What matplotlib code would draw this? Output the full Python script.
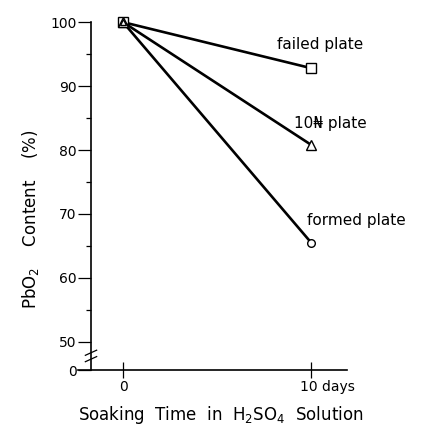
import matplotlib.pyplot as plt
import matplotlib.transforms as mtransforms

# soaking time (days) and PbO2 content (%)
days = [0, 10]
failed = [100, 92.8]
ten_n = [100, 80.8]
formed = [100, 65.5]

y_ticks = [50, 60, 70, 80, 90, 100]
y_minor = [55, 65, 75, 85, 95]
y_zero = 45.6          # broken axis: this position is labelled "0"

fig = plt.figure(figsize=(4.21, 4.30), dpi=100)
ax = fig.add_axes([0.1853, 0.1395, 0.639, 0.809])

lw = 1.9
ax.plot(days, formed, color='black', lw=lw, marker='o', ms=5.5,
        mfc='white', mec='black', mew=1.0, clip_on=False, zorder=3)
ax.plot(days, ten_n, color='black', lw=lw, marker='^', ms=7,
        mfc='white', mec='black', mew=1.0, clip_on=False, zorder=4)
ax.plot(days, failed, color='black', lw=lw, marker='s', ms=6.5,
        mfc='white', mec='black', mew=1.0, clip_on=False, zorder=3)
# the triangle sits inside the square at day 0
ax.plot(days[:1], ten_n[:1], ls='none', marker='^', ms=5, mfc='white',
        mec='black', mew=1.0, clip_on=False, zorder=5)

ax.set_xlim(-2.39, 11.9)
ax.set_ylim(y_zero, 100)

for s in ['top', 'right']:
    ax.spines[s].set_visible(False)
ax.spines['left'].set_position(('data', -1.7))
ax.spines['left'].set_linewidth(1.2)
ax.spines['bottom'].set_linewidth(1.2)

ax.set_yticks([y_zero] + y_ticks)
ax.set_yticklabels(['0'] + [str(v) for v in y_ticks])
ax.set_yticks(y_minor, minor=True)
ax.tick_params(axis='y', which='major', direction='out', length=9.5,
               width=0.9, labelsize=10, pad=1)
ax.tick_params(axis='y', which='minor', direction='out', length=3.5,
               width=0.9)

ax.set_xticks(days)
ax.set_xticklabels(['0', '10 days'])
ax.tick_params(axis='x', direction='inout', length=11, width=0.9,
               labelsize=10, pad=2)
lab = ax.get_xticklabels()[1]
lab.set_ha('left')
lab.set_transform(lab.get_transform() +
                  mtransforms.ScaledTranslation(-11 / 100, 0, fig.dpi_scale_trans))

# axis break marks
bx = -1.7
for yb in [47.3, 48.3]:
    ax.plot([bx - 0.3, bx + 0.3], [yb - 0.4, yb + 0.4], color='black',
            lw=0.9, clip_on=False)

ax.text(8.2, 96.5, 'failed plate', fontsize=11, ha='left', va='center')
ax.text(9.1, 84.2, '10\u20a6 plate', fontsize=11, ha='left', va='center')
ax.text(9.8, 69.0, 'formed plate', fontsize=11, ha='left', va='center')

fig.text(0.072, 0.49, 'PbO$_2$    Content    (%)', rotation=90, fontsize=12,
         ha='center', va='center')
fig.text(0.525, 0.035, 'Soaking  Time  in  H$_2$SO$_4$  Solution', fontsize=12,
         ha='center', va='center')

fig.savefig('out.png', dpi=100)
